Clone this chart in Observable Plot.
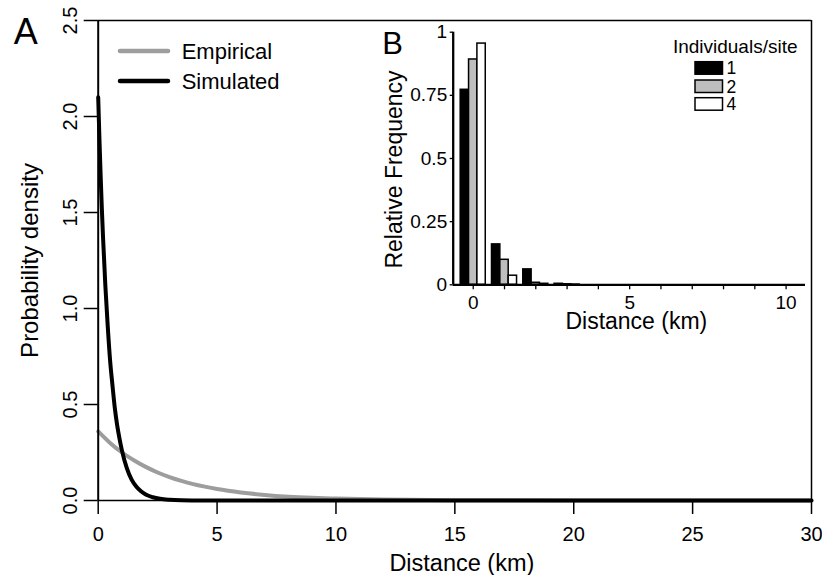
<!DOCTYPE html>
<html>
<head>
<meta charset="utf-8">
<script src="https://cdn.jsdelivr.net/npm/d3@7"></script>
<script src="https://cdn.jsdelivr.net/npm/@observablehq/plot@0.6"></script>
<style>
  html, body { margin: 0; padding: 0; background: white; }
  #wrap { position: relative; width: 822px; height: 575px; overflow: hidden; }
</style>
</head>
<body>
<div id="wrap"></div>
<script>
// ---------- Panel A data ----------
const empiricalX = [0, 0.5, 1, 1.5, 2, 2.5, 3, 3.5, 4, 5, 6, 7, 8, 9, 10, 12, 14, 16, 20, 25, 30];
const empiricalY = [0.36, 0.30, 0.25, 0.21, 0.175, 0.146, 0.122, 0.102, 0.085, 0.060, 0.042, 0.029, 0.020, 0.014, 0.010, 0.005, 0.0023, 0.0011, 0.0003, 0, 0];
const simulatedX = [0, 0.05, 0.1, 0.15, 0.2, 0.3, 0.4, 0.5, 0.6, 0.7, 0.8, 0.9, 1.0, 1.2, 1.4, 1.6, 1.8, 2.0, 2.3, 2.6, 3.0, 3.5, 4, 5, 10, 20, 30];
const simulatedY = [2.10, 1.89, 1.70, 1.53, 1.38, 1.12, 0.91, 0.73, 0.60, 0.48, 0.39, 0.32, 0.26, 0.17, 0.11, 0.073, 0.048, 0.031, 0.017, 0.009, 0.004, 0.0013, 0.0005, 0, 0, 0, 0];
const mainXTicks = [0, 5, 10, 15, 20, 25, 30];
const mainXTickLabels = ["0", "5", "10", "15", "20", "25", "30"];
const mainYTicks = [0, 0.5, 1, 1.5, 2, 2.5];
const mainYTickLabels = ["0.0", "0.5", "1.0", "1.5", "2.0", "2.5"];
const mainSeries = ["Empirical", "Simulated"];
const mainColors = ["#9d9d9d", "#000000"];

// ---------- Panel B data ----------
const insetGroups = [0, 1, 2, 3];
const insetSeries = ["1", "2", "4"];
const insetFills = ["#000000", "#bebebe", "#ffffff"];
const freqSite1 = [0.772, 0.160, 0.061, 0.004];
const freqSite2 = [0.892, 0.099, 0.008, 0.002];
const freqSite4 = [0.955, 0.036, 0.004, 0.001];
const insetXTicks = [0, 1, 2, 3, 4, 5, 6, 7, 8, 9, 10];
const insetXLabelled = [0, 5, 10];
const insetYTicks = [0, 0.25, 0.5, 0.75, 1];
const insetYTickLabels = ["0", "0.25", "0.5", "0.75", "1"];

const FONT = '"Liberation Sans", Arial, Helvetica, sans-serif';

// ---------- build tables ----------
const empirical = empiricalX.map((x, i) => ({x, y: empiricalY[i]}));
const simulated = simulatedX.map((x, i) => ({x, y: simulatedY[i]}));

const barW = 0.267; // bar width in km (style)
const seriesValues = [freqSite1, freqSite2, freqSite4];
const bars = [];
insetSeries.forEach((s, si) => {
  insetGroups.forEach((g, gi) => {
    const c = g + (si - 1) * barW;
    bars.push({series: s, x1: c - barW / 2, x2: c + barW / 2, v: seriesValues[si][gi]});
  });
});

const wrap = document.getElementById("wrap");

// ---------- Panel A ----------
const main = Plot.plot({
  width: 822, height: 575,
  marginLeft: 97.7, marginRight: 11, marginTop: 20, marginBottom: 75,
  x: {domain: [0, 30]},
  y: {domain: [0, 2.5]},
  style: {fontFamily: FONT, fontSize: "20px", background: "transparent", color: "black", overflow: "visible"},
  marks: [
    Plot.line(empirical, {x: "x", y: "y", stroke: mainColors[0], strokeWidth: 4, curve: "monotone-x"}),
    Plot.line(simulated, {x: "x", y: "y", stroke: mainColors[1], strokeWidth: 4, curve: "monotone-x"}),
    Plot.ruleX([0], {strokeWidth: 2}),
    Plot.ruleX([30], {strokeWidth: 1.5}),
    Plot.ruleY([0, 2.5], {strokeWidth: 1.5}),
    Plot.axisX({ticks: mainXTicks, tickSize: 14, tickPadding: 12, strokeWidth: 1.5,
      tickFormat: d => mainXTickLabels[mainXTicks.indexOf(d)], label: null}),
    Plot.axisY({ticks: mainYTicks, tickSize: 14, tickPadding: 7, tickRotate: -90, strokeWidth: 1.5,
      tickFormat: d => mainYTickLabels[mainYTicks.indexOf(d)], label: null}),
    Plot.text(["Probability density"], {text: d => d, frameAnchor: "left", dx: -60.4, rotate: -90,
      textAnchor: "middle", lineAnchor: "bottom", fontSize: 24}),
    Plot.text(["Distance (km)"], {text: d => d, frameAnchor: "bottom", dx: 7, dy: 70,
      textAnchor: "middle", lineAnchor: "bottom", fontSize: 23.5}),
    Plot.text(["A"], {text: d => d, frameAnchor: "top-left", dx: -84.4, dy: 23, textAnchor: "start",
      lineAnchor: "bottom", fontSize: 36})
  ]
});
wrap.appendChild(main);

// ---------- Panel B (inset) ----------
const inset = Plot.plot({
  width: 452, height: 320,
  marginLeft: 82.7, marginRight: 17, marginTop: 11.7, marginBottom: 55.7,
  x: {domain: [-0.64, 10.62]},
  y: {domain: [0, 1]},
  color: {domain: insetSeries, range: insetFills},
  style: {fontFamily: FONT, fontSize: "19px", background: "transparent", color: "black", overflow: "visible"},
  marks: [
    Plot.rect(bars, {x1: "x1", x2: "x2", y1: 0, y2: "v", fill: "series", stroke: "black", strokeWidth: 1.5}),
    Plot.ruleY([0], {strokeWidth: 2.3}),
    Plot.ruleX([-0.64], {y1: 0, y2: 1, strokeWidth: 2.3}),
    Plot.axisY({ticks: insetYTicks, tickSize: 3, tickPadding: 3, strokeWidth: 1.3,
      tickFormat: d => insetYTickLabels[insetYTicks.indexOf(d)], label: null}),
    Plot.axisX({ticks: insetXTicks, tickSize: 5, tickPadding: 6, strokeWidth: 1.3,
      tickFormat: d => insetXLabelled.includes(d) ? String(d) : "", label: null}),
    Plot.text(["Relative Frequency"], {text: d => d, frameAnchor: "left", dx: -51.7, dy: 11, rotate: -90,
      textAnchor: "middle", lineAnchor: "bottom", fontSize: 23}),
    Plot.text(["Distance (km)"], {text: d => d, frameAnchor: "bottom", dx: 7, dy: 44.5,
      textAnchor: "middle", lineAnchor: "bottom", fontSize: 23}),
    Plot.text(["B"], {text: d => d, frameAnchor: "top-left", dx: -71, dy: 21.6, textAnchor: "start",
      lineAnchor: "bottom", fontSize: 31})
  ]
});
inset.style.position = "absolute";
inset.style.left = "370px";
inset.style.top = "20px";
wrap.appendChild(inset);

// ---------- legends ----------
const overlay = d3.select(wrap).append("svg")
  .attr("width", 822).attr("height", 575)
  .style("position", "absolute").style("left", "0px").style("top", "0px")
  .style("pointer-events", "none")
  .style("font-family", FONT);

const mainLegend = overlay.append("g");
mainSeries.forEach((name, i) => {
  const y = 51 + i * 30;
  mainLegend.append("line").attr("x1", 120).attr("x2", 168).attr("y1", y).attr("y2", y)
    .attr("stroke", mainColors[i]).attr("stroke-width", 4.5).attr("stroke-linecap", "round");
  mainLegend.append("text").attr("x", 181.7).attr("y", y).attr("dy", "0.35em")
    .attr("font-size", 22).attr("fill", "black").text(name);
});

const insetLegend = overlay.append("g");
insetLegend.append("text").attr("x", 797.5).attr("y", 53).attr("text-anchor", "end")
  .attr("font-size", 19).attr("fill", "black").text("Individuals/site");
const boxTops = [61.7, 80, 97.7];
insetSeries.forEach((name, i) => {
  insetLegend.append("rect").attr("x", 695).attr("y", boxTops[i]).attr("width", 27.5).attr("height", 12.5)
    .attr("fill", insetFills[i]).attr("stroke", "black").attr("stroke-width", 1.5);
  insetLegend.append("text").attr("x", 726.5).attr("y", boxTops[i] + 6.5).attr("dy", "0.35em")
    .attr("font-size", 17.5).attr("fill", "black").text(name);
});
</script>
</body>
</html>
